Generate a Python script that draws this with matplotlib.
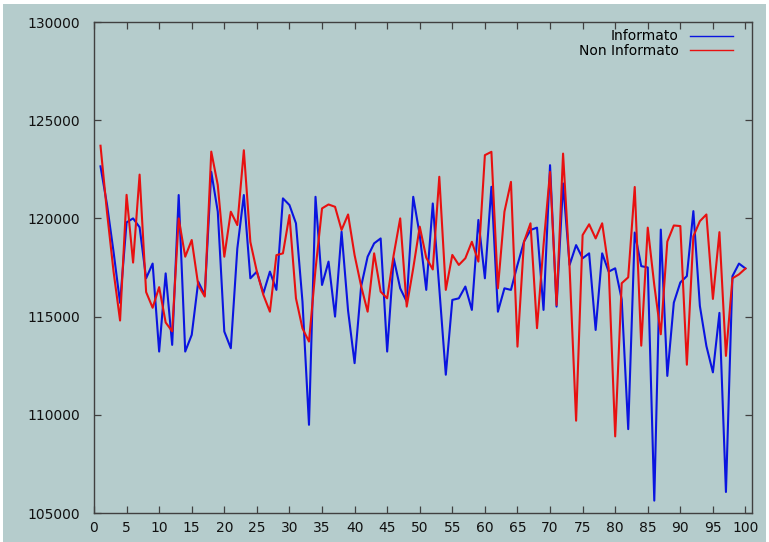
import matplotlib
matplotlib.use("Agg")
import matplotlib.pyplot as plt
from matplotlib.patches import Rectangle

x = list(range(1, 101))

informato = [
    122650, 120700, 118300, 115700, 119800, 120000, 119550, 116950, 117700, 113220,
    117200, 113560, 121190, 113220, 114070, 116780, 116100, 122370, 120340, 114240,
    113390, 118470, 121190, 116950, 117290, 116190, 117290, 116360, 121020, 120680,
    119750, 115760, 109490, 121100, 116610, 117800, 115000, 119320, 115300, 112630,
    116530, 118050, 118730, 118980, 113220, 117970, 116440, 115760, 121100, 119150,
    116360, 120760, 116440, 112040, 115850, 115930, 116530, 115340, 119920, 116950,
    121610, 115250, 116440, 116360, 117630, 118810, 119410, 119530, 115340, 122710,
    115510, 121780, 117630, 118640, 117970, 118220, 114320, 118220, 117290, 117460,
    115880, 109270, 119280, 117570, 117500, 105630, 119430, 111980, 115710, 116740,
    117060, 120370, 115540, 113500, 112160, 115190, 106070, 117060, 117700, 117450,
]

non_informato = [
    123700, 120300, 117300, 114800, 121200, 117750, 122230, 116250, 115450, 116500,
    114700, 114250, 120000, 118050, 118900, 116600, 116020, 123400, 121700, 118050,
    120340, 119660, 123470, 118800, 117290, 116100, 115250, 118130, 118220, 120170,
    115930, 114400, 113730, 117400, 120510, 120710, 120590, 119410, 120200, 118130,
    116560, 115250, 118220, 116270, 115930, 118140, 120000, 115510, 117460, 119580,
    118000, 117400, 122120, 116360, 118140, 117630, 117970, 118810, 117800, 123220,
    123390, 116440, 120340, 121860, 113470, 118810, 119750, 114410, 118640, 122370,
    115590, 123300, 117500, 109700, 119150, 119700, 118980, 119750, 117460, 108900,
    116700, 117000, 121600, 113520, 119530, 116610, 114100, 118820, 119640, 119610,
    112550, 119090, 119860, 120200, 115900, 119300, 113000, 116950, 117150, 117450,
]

labels = ["Informato", "Non Informato"]
xticks = list(range(0, 101, 5))
yticks = list(range(105000, 130001, 5000))

bg = "#b5cccc"
plt.rcParams["font.family"] = ["DejaVu Sans"]

fig = plt.figure(figsize=(7.69, 5.42), dpi=100)
fig.patch.set_facecolor("white")
fig.patches.append(Rectangle((3 / 769, 0), 763 / 769, 538 / 542,
                             transform=fig.transFigure, facecolor=bg,
                             edgecolor="none", zorder=-10))

ax = fig.add_axes([94 / 769, 1 - 513 / 542, (752 - 94) / 769, (513 - 22) / 542])
ax.set_facecolor(bg)

ax.plot(x, informato, color="#0a14e0", lw=1.5, label=labels[0])
ax.plot(x, non_informato, color="#e81010", lw=1.5, label=labels[1])

ax.set_xlim(0, 101)
ax.set_ylim(105000, 130000)
ax.set_xticks(xticks)
ax.set_yticks(yticks)
ax.tick_params(direction="in", length=5, width=0.9, color="#404040",
               top=True, right=True, labelsize=10, labelcolor="#111111")
ax.tick_params(axis="y", pad=10)
ax.tick_params(axis="x", pad=6)
for s in ax.spines.values():
    s.set_color("#404040")
    s.set_linewidth(1.0)

leg = ax.legend(loc="upper right", bbox_to_anchor=(0.971, 0.985),
                frameon=False, markerfirst=False, fontsize=10,
                handlelength=3.1, handletextpad=0.8, labelspacing=0.05,
                borderpad=0, borderaxespad=0)
for line in leg.get_lines():
    line.set_linewidth(1.0)

fig.savefig("out.png", dpi=100, facecolor=fig.get_facecolor())
